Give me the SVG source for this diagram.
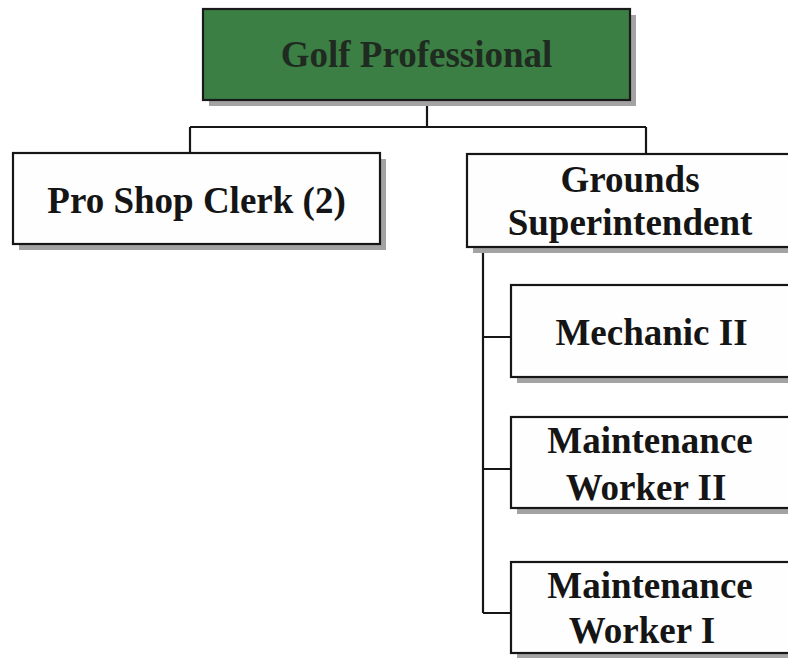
<svg xmlns="http://www.w3.org/2000/svg" width="788" height="658" viewBox="0 0 788 658">
<defs>
<style>
.box{fill:#fefefe;stroke:#161616;stroke-width:2.2}
.top{fill:#3c7f44;stroke:#1a1a1a;stroke-width:2.2}
.sh{fill:#a3a3a3}
.t{font-family:"Liberation Serif","Times New Roman",serif;font-weight:bold;font-size:37px;fill:#151515;text-anchor:middle}
.tg{fill:#1f2b20}
.c{fill:none;stroke:#161616;stroke-width:2.2}
</style>
</defs>
<rect width="788" height="658" fill="#ffffff"/>
<g id="connectors">
<path class="c" d="M427,100 V127 M190,127 H646 M190,127 V153 M646,127 V154"/>
<path class="c" d="M483,247 V613 M483,337 H511 M483,469 H511 M483,613 H511"/>
</g>
<g id="golf-professional">
<rect class="sh" x="209" y="15" width="427" height="91"/>
<rect class="top" x="203" y="9" width="427" height="91"/>
<text class="t tg" x="416.5" y="67">Golf Professional</text>
</g>
<g id="pro-shop-clerk">
<rect class="sh" x="19" y="159" width="367" height="91"/>
<rect class="box" x="13" y="153" width="367" height="91"/>
<text class="t" x="196.5" y="213">Pro Shop Clerk (2)</text>
</g>
<g id="grounds-superintendent">
<rect class="sh" x="473" y="160" width="330" height="93"/>
<rect class="box" x="467" y="154" width="326" height="93"/>
<text class="t" x="630" y="192">Grounds</text>
<text class="t" x="630" y="235">Superintendent</text>
</g>
<g id="mechanic-ii">
<rect class="sh" x="517" y="291" width="290" height="92"/>
<rect class="box" x="511" y="285" width="282" height="92"/>
<text class="t" x="651.5" y="345">Mechanic II</text>
</g>
<g id="maintenance-worker-ii">
<rect class="sh" x="517" y="423" width="290" height="91"/>
<rect class="box" x="511" y="417" width="282" height="91"/>
<text class="t" x="650" y="453">Maintenance</text>
<text class="t" x="646" y="500">Worker II</text>
</g>
<g id="maintenance-worker-i">
<rect class="sh" x="517" y="568" width="290" height="91"/>
<rect class="box" x="511" y="562" width="282" height="91"/>
<text class="t" x="650" y="598">Maintenance</text>
<text class="t" x="642" y="643">Worker I</text>
</g>
</svg>
